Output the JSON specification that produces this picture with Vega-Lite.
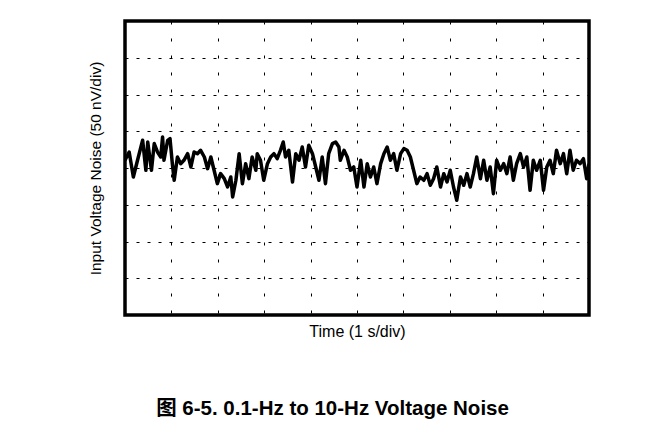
{
  "$schema": "https://vega.github.io/schema/vega-lite/v6.json",
  "width": 464,
  "height": 294,
  "autosize": {"type": "none"},
  "padding": {"left": 125, "top": 21, "right": 74, "bottom": 114},
  "background": "white",
  "config": {
    "view": {"stroke": "black", "strokeWidth": 3.5},
    "font": "Liberation Sans"
  },
  "title": {
    "text": "图 6-5. 0.1-Hz to 10-Hz Voltage Noise",
    "orient": "bottom",
    "anchor": "middle",
    "frame": "bounds",
    "fontSize": 20.5,
    "fontWeight": "bold",
    "font": "Liberation Sans, Noto Sans CJK SC",
    "offset": 60,
    "dx": -6,
    "color": "black"
  },
  "data": {
    "values": [
      {"time_s": 0.00, "noise_nV": 10.5},
      {"time_s": 0.09, "noise_nV": 21.8},
      {"time_s": 0.18, "noise_nV": -12.2},
      {"time_s": 0.27, "noise_nV": 10.5},
      {"time_s": 0.38, "noise_nV": 37.7},
      {"time_s": 0.45, "noise_nV": -3.1},
      {"time_s": 0.49, "noise_nV": 35.4},
      {"time_s": 0.57, "noise_nV": -3.1},
      {"time_s": 0.63, "noise_nV": 33.2},
      {"time_s": 0.70, "noise_nV": 21.8},
      {"time_s": 0.77, "noise_nV": 15.0},
      {"time_s": 0.81, "noise_nV": 42.2},
      {"time_s": 0.84, "noise_nV": 10.5},
      {"time_s": 0.92, "noise_nV": 37.7},
      {"time_s": 0.97, "noise_nV": 40.0},
      {"time_s": 1.02, "noise_nV": 5.9},
      {"time_s": 1.06, "noise_nV": -16.7},
      {"time_s": 1.13, "noise_nV": 15.0},
      {"time_s": 1.20, "noise_nV": 5.9},
      {"time_s": 1.27, "noise_nV": 10.5},
      {"time_s": 1.35, "noise_nV": 19.5},
      {"time_s": 1.42, "noise_nV": 1.4},
      {"time_s": 1.49, "noise_nV": 21.8},
      {"time_s": 1.56, "noise_nV": 19.5},
      {"time_s": 1.63, "noise_nV": 24.1},
      {"time_s": 1.71, "noise_nV": 15.0},
      {"time_s": 1.78, "noise_nV": -0.9},
      {"time_s": 1.85, "noise_nV": 15.0},
      {"time_s": 1.92, "noise_nV": -3.1},
      {"time_s": 1.99, "noise_nV": -21.3},
      {"time_s": 2.06, "noise_nV": -7.7},
      {"time_s": 2.14, "noise_nV": -14.5},
      {"time_s": 2.21, "noise_nV": -25.8},
      {"time_s": 2.28, "noise_nV": -12.2},
      {"time_s": 2.32, "noise_nV": -39.4},
      {"time_s": 2.39, "noise_nV": -16.7},
      {"time_s": 2.46, "noise_nV": 19.5},
      {"time_s": 2.53, "noise_nV": -21.3},
      {"time_s": 2.60, "noise_nV": 5.9},
      {"time_s": 2.67, "noise_nV": -14.5},
      {"time_s": 2.74, "noise_nV": 15.0},
      {"time_s": 2.82, "noise_nV": -3.1},
      {"time_s": 2.85, "noise_nV": 19.5},
      {"time_s": 2.92, "noise_nV": 10.5},
      {"time_s": 2.99, "noise_nV": -16.7},
      {"time_s": 3.07, "noise_nV": 5.9},
      {"time_s": 3.14, "noise_nV": 15.0},
      {"time_s": 3.21, "noise_nV": 19.5},
      {"time_s": 3.28, "noise_nV": 12.7},
      {"time_s": 3.35, "noise_nV": 24.1},
      {"time_s": 3.41, "noise_nV": 35.4},
      {"time_s": 3.46, "noise_nV": 15.0},
      {"time_s": 3.53, "noise_nV": 24.1},
      {"time_s": 3.61, "noise_nV": -19.0},
      {"time_s": 3.68, "noise_nV": 19.5},
      {"time_s": 3.75, "noise_nV": 10.5},
      {"time_s": 3.82, "noise_nV": 28.6},
      {"time_s": 3.89, "noise_nV": 1.4},
      {"time_s": 3.96, "noise_nV": 30.9},
      {"time_s": 4.04, "noise_nV": 19.5},
      {"time_s": 4.11, "noise_nV": 1.4},
      {"time_s": 4.18, "noise_nV": -16.7},
      {"time_s": 4.25, "noise_nV": 15.0},
      {"time_s": 4.32, "noise_nV": -21.3},
      {"time_s": 4.39, "noise_nV": 19.5},
      {"time_s": 4.47, "noise_nV": 33.2},
      {"time_s": 4.54, "noise_nV": 35.4},
      {"time_s": 4.61, "noise_nV": 28.6},
      {"time_s": 4.64, "noise_nV": 10.5},
      {"time_s": 4.72, "noise_nV": 24.1},
      {"time_s": 4.79, "noise_nV": 15.0},
      {"time_s": 4.86, "noise_nV": -3.1},
      {"time_s": 4.93, "noise_nV": 1.4},
      {"time_s": 5.00, "noise_nV": -25.8},
      {"time_s": 5.08, "noise_nV": 10.5},
      {"time_s": 5.15, "noise_nV": -25.8},
      {"time_s": 5.22, "noise_nV": 5.9},
      {"time_s": 5.29, "noise_nV": -12.2},
      {"time_s": 5.36, "noise_nV": 1.4},
      {"time_s": 5.43, "noise_nV": -21.3},
      {"time_s": 5.51, "noise_nV": 5.9},
      {"time_s": 5.58, "noise_nV": 19.5},
      {"time_s": 5.65, "noise_nV": 28.6},
      {"time_s": 5.72, "noise_nV": 10.5},
      {"time_s": 5.79, "noise_nV": 19.5},
      {"time_s": 5.86, "noise_nV": -3.1},
      {"time_s": 5.94, "noise_nV": 19.5},
      {"time_s": 6.01, "noise_nV": 26.4},
      {"time_s": 6.08, "noise_nV": 24.1},
      {"time_s": 6.15, "noise_nV": 15.0},
      {"time_s": 6.22, "noise_nV": -3.1},
      {"time_s": 6.29, "noise_nV": -21.3},
      {"time_s": 6.36, "noise_nV": -12.2},
      {"time_s": 6.44, "noise_nV": -16.7},
      {"time_s": 6.51, "noise_nV": -7.7},
      {"time_s": 6.58, "noise_nV": -23.5},
      {"time_s": 6.65, "noise_nV": -14.5},
      {"time_s": 6.72, "noise_nV": 1.4},
      {"time_s": 6.80, "noise_nV": -25.8},
      {"time_s": 6.87, "noise_nV": -7.7},
      {"time_s": 6.94, "noise_nV": -19.0},
      {"time_s": 7.01, "noise_nV": -3.1},
      {"time_s": 7.08, "noise_nV": -25.8},
      {"time_s": 7.15, "noise_nV": -43.9},
      {"time_s": 7.23, "noise_nV": -12.2},
      {"time_s": 7.30, "noise_nV": -23.5},
      {"time_s": 7.37, "noise_nV": -7.7},
      {"time_s": 7.44, "noise_nV": -25.8},
      {"time_s": 7.51, "noise_nV": -7.7},
      {"time_s": 7.58, "noise_nV": 15.0},
      {"time_s": 7.66, "noise_nV": -14.5},
      {"time_s": 7.73, "noise_nV": 10.5},
      {"time_s": 7.80, "noise_nV": -16.7},
      {"time_s": 7.87, "noise_nV": 1.4},
      {"time_s": 7.94, "noise_nV": -34.9},
      {"time_s": 8.01, "noise_nV": 10.5},
      {"time_s": 8.09, "noise_nV": -3.1},
      {"time_s": 8.16, "noise_nV": 5.9},
      {"time_s": 8.23, "noise_nV": -7.7},
      {"time_s": 8.30, "noise_nV": 15.0},
      {"time_s": 8.37, "noise_nV": -16.7},
      {"time_s": 8.44, "noise_nV": 5.9},
      {"time_s": 8.52, "noise_nV": 19.5},
      {"time_s": 8.59, "noise_nV": 1.4},
      {"time_s": 8.66, "noise_nV": 15.0},
      {"time_s": 8.73, "noise_nV": -30.3},
      {"time_s": 8.80, "noise_nV": 10.5},
      {"time_s": 8.87, "noise_nV": -3.1},
      {"time_s": 8.95, "noise_nV": 10.5},
      {"time_s": 9.02, "noise_nV": -30.3},
      {"time_s": 9.09, "noise_nV": 1.4},
      {"time_s": 9.16, "noise_nV": 10.5},
      {"time_s": 9.23, "noise_nV": -7.7},
      {"time_s": 9.30, "noise_nV": 24.1},
      {"time_s": 9.38, "noise_nV": 5.9},
      {"time_s": 9.45, "noise_nV": 19.5},
      {"time_s": 9.52, "noise_nV": -7.7},
      {"time_s": 9.59, "noise_nV": 24.1},
      {"time_s": 9.66, "noise_nV": -3.1},
      {"time_s": 9.73, "noise_nV": 10.5},
      {"time_s": 9.81, "noise_nV": 5.9},
      {"time_s": 9.88, "noise_nV": 12.7},
      {"time_s": 9.95, "noise_nV": -14.5},
      {"time_s": 10.00, "noise_nV": 5.9}
    ]
  },
  "mark": {"type": "line", "color": "black", "strokeWidth": 3.5, "strokeJoin": "round", "clip": true},
  "encoding": {
    "x": {
      "field": "time_s",
      "type": "quantitative",
      "scale": {"domain": [0, 10], "nice": false, "zero": false},
      "axis": {
        "title": "Time (1 s/div)",
        "values": [1, 2, 3, 4, 5, 6, 7, 8, 9],
        "grid": true,
        "gridColor": "black",
        "gridWidth": 1,
        "gridDash": [3, 14],
        "labels": false,
        "ticks": false,
        "domain": false,
        "titleFont": "Liberation Sans",
        "titleFontSize": 16,
        "titleFontWeight": "normal",
        "titleColor": "black",
        "titlePadding": 8
      }
    },
    "y": {
      "field": "noise_nV",
      "type": "quantitative",
      "scale": {"domain": [-200, 200], "nice": false, "zero": false},
      "axis": {
        "title": "Input Voltage Noise (50 nV/div)",
        "values": [-150, -100, -50, 0, 50, 100, 150],
        "grid": true,
        "gridColor": "black",
        "gridWidth": 1,
        "gridDash": [3, 8],
        "labels": false,
        "ticks": false,
        "domain": false,
        "titleFont": "Liberation Sans",
        "titleFontSize": 15.5,
        "titleFontWeight": "normal",
        "titleColor": "black",
        "titlePadding": 22
      }
    }
  }
}
